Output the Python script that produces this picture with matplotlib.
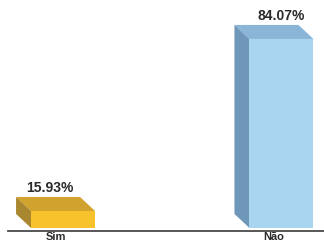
import matplotlib
matplotlib.use('Agg')
import matplotlib.pyplot as plt
from matplotlib.patches import Polygon

# data
categories = ['Sim', 'Não']
values = [15.93, 84.07]
labels = ['15.93%', '84.07%']

# colours per bar: front, top, side
front_colors = ['#F7C22B', '#A9D5F0']
top_colors = ['#D2A22F', '#8AB5D7']
side_colors = ['#A9872F', '#6F97B9']

base = 9.2          # axis floor
width = 0.293
dx = -0.0686        # 3d depth in x (data units)
dy = 5.55           # 3d depth in y (data units)
label_shift = [-0.06, 0.0]

plt.rcParams['font.family'] = ['Liberation Sans', 'DejaVu Sans']

fig = plt.figure(figsize=(3.24, 2.42), dpi=100)
ax = fig.add_axes([8/324, 11/242, 316/324, 231/242])

x = list(range(len(categories)))
bars = ax.bar(x, [v - base for v in values], width, bottom=base,
              color=front_colors, zorder=3)

for i, b in enumerate(bars):
    x0 = b.get_x()
    x1 = x0 + b.get_width()
    y0 = b.get_y()
    y1 = y0 + b.get_height()
    top = Polygon([(x0, y1), (x1, y1), (x1 + dx, y1 + dy), (x0 + dx, y1 + dy)],
                  closed=True, facecolor=top_colors[i], edgecolor='none', zorder=2)
    side = Polygon([(x0, y0), (x0, y1), (x0 + dx, y1 + dy), (x0 + dx, y0 + dy)],
                   closed=True, facecolor=side_colors[i], edgecolor='none', zorder=2)
    ax.add_patch(top)
    ax.add_patch(side)
    ax.annotate(labels[i], (x[i] + label_shift[i], y1 + dy), xytext=(0, 1.5),
                textcoords='offset points', ha='center', va='bottom',
                fontsize=10, fontweight='bold', color='#2a2a2a')

ax.set_xlim(-0.252, 1.195)
ax.set_ylim(8.0, 99.5)

for s in ['top', 'right', 'left']:
    ax.spines[s].set_visible(False)
ax.spines['bottom'].set_color('#4a4a4a')
ax.spines['bottom'].set_linewidth(1.3)
ax.set_yticks([])
ax.set_xticks([p + dx / 2 for p in x])
ax.set_xticklabels(categories, fontsize=8, fontweight='bold', color='#2a2a2a')
ax.tick_params(axis='x', length=0, pad=0.8)

fig.savefig('out.png', dpi=100)
